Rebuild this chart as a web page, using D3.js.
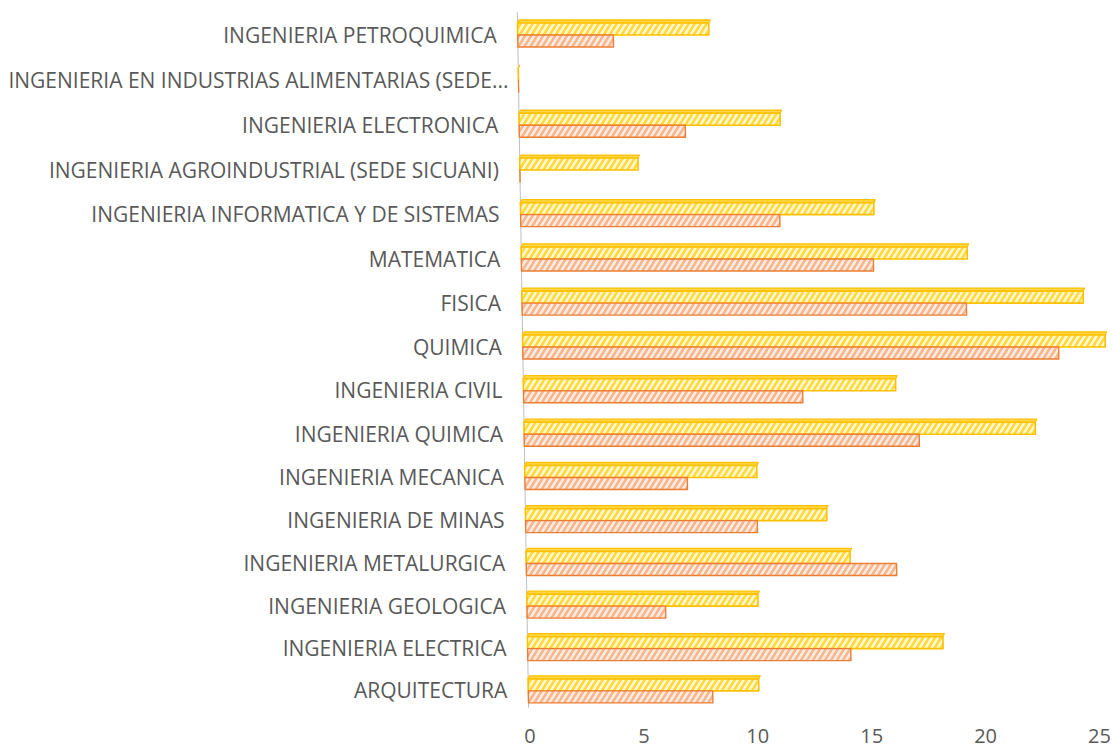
<!DOCTYPE html>
<html>
<head>
<meta charset="utf-8">
<script src="https://cdn.jsdelivr.net/npm/d3@7/dist/d3.min.js"></script>
<style>
  html, body { margin: 0; padding: 0; background: #fff; }
  svg { display: block; }
  text { font-family: "Open Sans", "Noto Sans", sans-serif; fill: #595959; }
</style>
</head>
<body>
<svg id="chart" width="1112" height="751"></svg>
<script>
// ---- data (top to bottom as drawn) ----
const categories = [
  "INGENIERIA PETROQUIMICA",
  "INGENIERIA EN INDUSTRIAS ALIMENTARIAS (SEDE SICUANI)",
  "INGENIERIA ELECTRONICA",
  "INGENIERIA AGROINDUSTRIAL (SEDE SICUANI)",
  "INGENIERIA INFORMATICA Y DE SISTEMAS",
  "MATEMATICA",
  "FISICA",
  "QUIMICA",
  "INGENIERIA CIVIL",
  "INGENIERIA QUIMICA",
  "INGENIERIA MECANICA",
  "INGENIERIA DE MINAS",
  "INGENIERIA METALURGICA",
  "INGENIERIA GEOLOGICA",
  "INGENIERIA ELECTRICA",
  "ARQUITECTURA"
];
const seriesYellow = [8, 0, 11, 5, 15, 19, 24, 25, 16, 22, 10, 13, 14, 10, 18, 10];
const seriesOrange = [4, 0, 7, 0, 11, 15, 19, 23, 12, 17, 7, 10, 16, 6, 14, 8];
const tickValues = [0, 5, 10, 15, 20, 25];

// ---- layout (slight perspective of the 3-D plot) ----
const svg = d3.select("#chart");
const qScale = d3.scalePoint().domain(categories).range([0, 15]);
const yOf = q => (35 + 45.43 * q) / (1 + 0.00247 * q);          // screen y of a category centre
const zeroX = d3.scaleLinear().domain([34, 690]).range([517.7, 528.3]); // slanted value axis
const unitPx = d3.scaleLinear().domain([0, 7, 15]).range([23.9, 23.3, 23.05]);
function rowScale(q, y) {
  return d3.scaleLinear().domain([0, 25]).range([zeroX(y), zeroX(y) + 25 * unitPx(q)]);
}

// ---- patterns ----
const defs = svg.append("defs");
function hatch(id, bg, fg) {
  const p = defs.append("pattern").attr("id", id)
    .attr("patternUnits", "userSpaceOnUse").attr("width", 6).attr("height", 12)
    .attr("patternTransform", "skewX(-32)");
  p.append("rect").attr("width", 6).attr("height", 12).attr("fill", bg);
  p.append("rect").attr("width", 3).attr("height", 12).attr("fill", fg);
}
hatch("hatchY", "#FFF7CF", "#FFD93D");
hatch("hatchO", "#FDEBDF", "#F6B690");

// ---- axis line ----
svg.append("line")
  .attr("x1", zeroX(yOf(-0.5))).attr("y1", yOf(-0.5))
  .attr("x2", zeroX(yOf(15.4))).attr("y2", yOf(15.4))
  .attr("stroke", "#BFBFBF").attr("stroke-width", 1);

function quad(q, v, yTop, yBot, dx) {
  const sT = rowScale(q, yTop), sB = rowScale(q, yBot);
  return `M${sB(0)},${yBot}L${sT(0) + dx},${yTop}L${sT(v) + dx},${yTop}L${sB(v)},${yBot}Z`;
}

const rows = svg.append("g");
categories.forEach((c, i) => {
  const q = qScale(c);
  const yc = yOf(q);
  const vy = seriesYellow[i], vo = seriesOrange[i];
  // yellow bar: top face + front face
  rows.append("path").attr("d", quad(q, vy, yc - 15, yc - 12, 1.5))
    .attr("fill", "#FFD84A").attr("stroke", "#FFC000").attr("stroke-width", 1.3).attr("stroke-linejoin", "round");
  rows.append("path").attr("d", quad(q, vy, yc - 12, yc, 0))
    .attr("fill", "url(#hatchY)").attr("stroke", "#FFC000").attr("stroke-width", 1.6).attr("stroke-linejoin", "round");
  // orange bar
  rows.append("path").attr("d", quad(q, vo, yc, yc + 12, 0))
    .attr("fill", "url(#hatchO)").attr("stroke", "#ED7D31").attr("stroke-width", 1.4).attr("stroke-linejoin", "round");
});

// ---- category labels ----
const maxLabelW = 502;
categories.forEach(c => {
  const q = qScale(c);
  const yc = yOf(q);
  const t = svg.append("text")
    .attr("y", yc).attr("dy", "0.36em")
    .attr("text-anchor", "end")
    .style("font-size", "21px")
    .text(c);
  let gap = 21;
  if (t.node().getComputedTextLength() > maxLabelW) {
    let s = c;
    while (s.length > 1) {
      s = s.slice(0, -1).trimEnd();
      t.text(s + "...");
      if (t.node().getComputedTextLength() <= maxLabelW) break;
    }
    gap = 10;
  }
  t.attr("x", zeroX(yc) - gap);
});

// ---- bottom value axis labels ----
const xAxisScale = d3.scaleLinear().domain([0, 25]).range([529.5, 1099]);
const ax = svg.append("g").attr("transform", "translate(0,729)")
  .call(d3.axisBottom(xAxisScale).tickValues(tickValues).tickSize(0).tickPadding(0));
ax.select(".domain").remove();
ax.selectAll("text").style("font-size", "20px").attr("fill", "#595959")
  .style("font-family", '"Open Sans", "Noto Sans", sans-serif');
</script>
</body>
</html>
